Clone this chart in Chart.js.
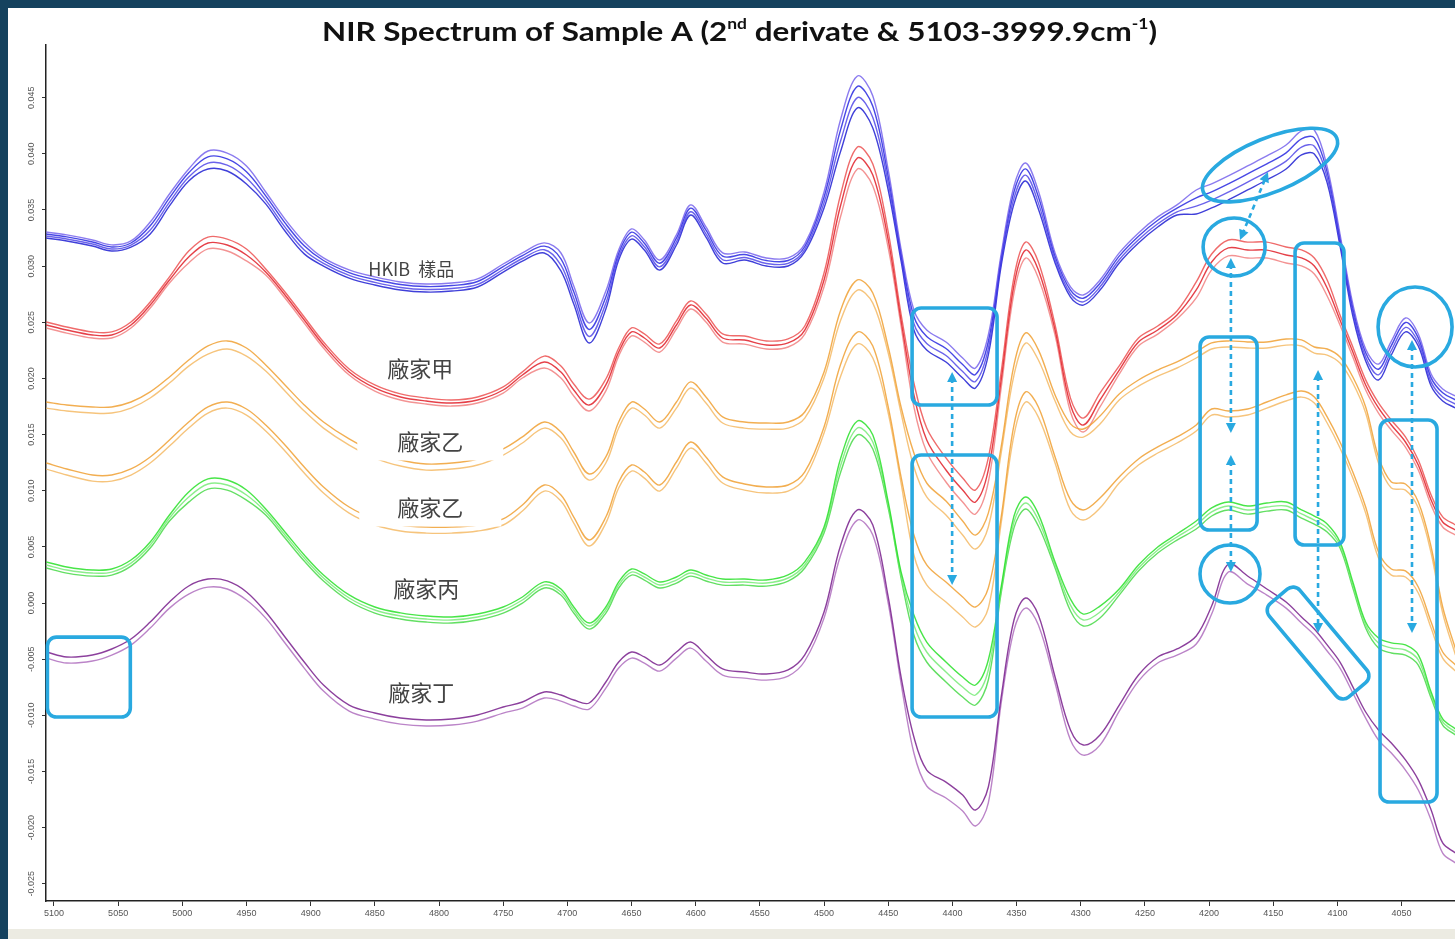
<!DOCTYPE html>
<html lang="zh-Hant">
<head>
<meta charset="UTF-8">
<title>NIR Spectrum of Sample A</title>
<script src="https://cdn.jsdelivr.net/npm/chart.js"></script>
<style>
  html, body { margin: 0; padding: 0; }
  body { width: 1455px; height: 939px; position: relative; overflow: hidden; background: #15425e; }
  .panel { position: absolute; left: 8px; top: 8px; right: 0; bottom: 0; background: #fff; }
  .strip { position: absolute; left: 8px; right: 0; top: 929px; bottom: 0; background: #ecebe2; }
  #nirChart { position: absolute; left: 0; top: 0; }
</style>
</head>
<body>
<div class="panel"></div>
<div class="strip"></div>
<canvas id="nirChart" width="1455" height="939"></canvas>
<script>
// wavenumber grid (cm-1) shared by every trace
const wavenumber = [5106, 5090, 5070, 5055, 5040, 5025, 5010, 4995, 4980, 4965, 4950, 4935, 4920, 4905, 4890, 4870, 4850, 4830, 4810, 4790,
  4770, 4750, 4735, 4718, 4705, 4695, 4683, 4670, 4660, 4650, 4640, 4628, 4615, 4604, 4592, 4579, 4562, 4545, 4528, 4515,
  4500, 4487, 4474, 4462, 4450, 4440, 4430, 4420, 4405, 4392, 4382, 4372, 4362, 4352, 4343, 4333, 4320, 4308, 4298, 4285,
  4270, 4255, 4240, 4225, 4210, 4198, 4185, 4170, 4155, 4140, 4128, 4118, 4108, 4098, 4088, 4078, 4068, 4058, 4047, 4037,
  4027, 4018, 4008];

// 2nd derivative values, in units of 1e-3
// HKIB 樣品
const hkib1 = [33.04,32.78,32.33,31.89,32.24,33.93,36.42,38.65,40.25,40.07,38.92,36.60,34.19,32.15,30.73,29.66,29.04,28.59,28.41,28.50,
  28.86,30.19,31.17,32.07,31.17,28.23,24.94,27.78,31.44,33.31,32.33,30.55,32.78,35.45,33.49,31.18,31.26,30.73,30.73,31.98,
  36.60,43.10,46.93,45.15,38.56,31.52,26.09,24.31,23.24,21.82,20.93,23.87,31.08,37.14,39.18,36.69,31.18,28.15,27.43,28.77,
  31.18,32.96,34.38,35.45,36.78,37.32,38.03,38.92,39.81,40.79,42.04,42.12,38.83,32.86,26.62,22.62,21.28,23.33,25.38,23.95,
  20.39,19.06,18.43];
const hkib2 = [32.86,32.60,32.15,31.71,32.06,33.59,36.08,38.31,39.73,39.55,38.40,36.26,33.85,31.81,30.50,29.43,28.81,28.36,28.18,28.27,
  28.63,29.96,30.94,31.78,30.65,27.71,24.36,27.26,31.15,33.02,32.04,30.26,32.49,35.16,33.20,30.89,31.03,30.50,30.50,31.75,
  36.14,42.18,46.01,44.23,37.98,31.18,25.51,23.73,22.66,21.24,20.35,23.29,30.74,36.62,38.66,36.17,30.89,27.86,27.14,28.48,
  30.89,32.67,34.09,35.16,36.08,36.62,37.33,38.22,39.11,40.09,41.34,41.42,38.37,32.52,26.28,22.28,20.82,22.93,24.98,23.61,
  20.05,18.72,18.09];
const hkib3 = [32.68,32.42,31.97,31.53,31.88,33.21,35.70,37.93,39.17,38.99,37.84,35.88,33.47,31.43,30.24,29.17,28.55,28.10,27.92,28.01,
  28.37,29.70,30.68,31.46,30.09,27.15,23.74,26.70,30.83,32.70,31.72,29.94,32.17,34.84,32.88,30.57,30.77,30.24,30.24,31.49,
  35.64,41.18,45.01,43.23,37.36,30.80,24.89,23.11,22.04,20.62,19.73,22.67,30.36,36.06,38.10,35.61,30.57,27.54,26.82,28.16,
  30.57,32.35,33.77,34.84,35.34,35.88,36.59,37.48,38.37,39.35,40.60,40.68,37.87,32.14,25.90,21.90,20.32,22.49,24.54,23.23,
  19.67,18.34,17.71];
const hkib4 = [32.50,32.24,31.79,31.35,31.70,32.87,35.36,37.59,38.65,38.47,37.32,35.54,33.13,31.09,30.01,28.94,28.32,27.87,27.69,27.78,
  28.14,29.47,30.45,31.17,29.57,26.63,23.16,26.18,30.54,32.41,31.43,29.65,31.88,34.55,32.59,30.28,30.54,30.01,30.01,31.26,
  35.18,40.26,44.09,42.31,36.78,30.46,24.31,22.53,21.46,20.04,19.15,22.09,30.02,35.54,37.58,35.09,30.28,27.25,26.53,27.87,
  30.28,32.06,33.48,34.55,34.64,35.18,35.89,36.78,37.67,38.65,39.90,39.98,37.41,31.80,25.56,21.56,19.86,22.09,24.14,22.89,
  19.33,18.00,17.37];

// 廠家甲
const jia1 = [25.03,24.58,24.14,24.14,25.03,26.81,29.04,31.34,32.59,32.41,31.52,29.75,27.70,25.47,23.25,20.84,19.42,18.62,18.26,18.08,
  18.35,19.24,20.58,21.99,21.10,19.50,18.16,19.95,22.71,24.50,23.96,23.07,25.12,26.90,25.74,23.96,23.78,23.34,23.52,24.67,
  29.39,36.42,40.61,39.10,33.04,25.73,19.60,15.59,12.92,11.14,10.07,12.92,20.57,29.03,32.14,30.37,24.76,18.25,16.47,18.70,
  21.11,23.60,24.67,26.01,28.59,31.08,32.33,32.14,32.14,31.70,31.44,30.72,28.76,25.65,22.80,19.87,17.82,16.30,14.79,12.74,
  9.62,7.67,6.95];
const jia2 = [24.76,24.31,23.87,23.87,24.76,26.54,28.77,30.81,32.06,31.88,30.99,29.48,27.43,25.20,22.98,20.57,19.15,18.35,17.99,17.81,
  18.08,18.97,20.31,21.46,20.57,18.97,17.63,19.42,22.35,24.14,23.60,22.71,24.76,26.54,25.38,23.60,23.42,22.98,23.16,24.31,
  28.77,35.44,39.63,38.12,32.33,25.20,18.53,14.52,11.85,10.07,9.00,11.85,19.86,28.32,31.43,29.66,24.31,17.63,15.85,18.08,
  20.75,23.24,24.31,25.65,27.88,30.37,31.62,31.43,31.43,30.99,30.73,30.01,28.05,25.20,22.35,19.42,17.37,15.85,14.34,12.29,
  9.17,7.22,6.50];
const jia3 = [24.49,24.04,23.60,23.60,24.49,26.27,28.50,30.28,31.53,31.35,30.46,29.21,27.16,24.93,22.71,20.30,18.88,18.08,17.72,17.54,
  17.81,18.70,20.04,20.93,20.04,18.44,17.10,18.89,21.99,23.78,23.24,22.35,24.40,26.18,25.02,23.24,23.06,22.62,22.80,23.95,
  28.15,34.46,38.65,37.14,31.62,24.67,17.46,13.45,10.78,9.00,7.93,10.78,19.15,27.61,30.72,28.95,23.86,17.01,15.23,17.46,
  20.39,22.88,23.95,25.29,27.17,29.66,30.91,30.72,30.72,30.28,30.02,29.30,27.34,24.75,21.90,18.97,16.92,15.40,13.89,11.84,
  8.72,6.77,6.05];

// 廠家乙 (upper set)
const yiA1 = [17.90,17.64,17.46,17.46,17.90,18.80,20.13,21.64,22.89,23.34,22.71,21.20,19.42,17.64,16.12,14.61,13.45,12.74,12.38,12.47,
  12.83,13.72,14.79,16.12,15.23,13.45,11.49,13.01,16.12,17.90,17.28,16.12,17.90,19.69,18.35,16.57,16.12,16.03,16.12,17.01,
  20.58,26.10,28.77,27.61,22.80,17.46,13.36,10.69,9.08,7.30,6.05,8.01,13.90,21.20,24.05,22.54,18.53,15.95,15.50,16.66,
  18.62,19.86,20.75,21.47,22.36,23.16,23.34,23.25,23.25,23.51,23.43,22.80,22.62,21.91,20.13,17.46,13.01,10.78,10.60,9.00,
  4.99,-0.35,-4.09];
const yiA2 = [17.36,17.10,16.92,16.92,17.36,18.26,19.59,21.10,22.17,22.62,21.99,20.66,18.88,17.10,15.58,14.07,12.91,12.20,11.84,11.93,
  12.29,13.18,14.25,15.58,14.69,12.91,10.95,12.47,15.58,17.36,16.74,15.58,17.36,19.15,17.81,16.03,15.58,15.49,15.58,16.47,
  20.04,25.20,27.87,26.71,22.26,16.92,12.12,9.45,7.84,6.06,4.81,6.77,13.36,20.30,23.15,21.64,17.99,15.23,14.78,15.94,
  18.08,19.32,20.21,20.93,21.82,22.62,22.80,22.71,22.71,22.97,22.89,22.26,22.08,21.37,19.59,16.92,12.47,10.24,10.06,8.46,
  4.45,-0.89,-4.63];

// 廠家乙 (lower set)
const yiB1 = [12.47,11.94,11.40,11.40,11.94,13.01,14.52,16.12,17.46,17.90,17.28,15.86,14.08,12.12,10.34,8.55,7.49,6.95,6.77,6.77,
  6.95,7.49,8.73,10.51,9.62,7.66,5.62,7.66,10.78,12.29,11.67,10.51,12.56,14.34,13.01,11.23,10.60,10.34,10.51,11.67,
  15.68,21.28,24.13,22.88,17.46,11.23,6.06,3.39,1.87,0.54,-0.35,1.34,7.66,15.86,18.80,17.46,13.01,9.18,8.29,9.36,
  11.23,12.83,13.90,14.79,15.86,17.28,17.10,17.28,17.90,18.53,18.88,18.35,16.57,14.34,11.67,8.55,4.55,3.03,2.86,1.43,
  -1.69,-4.36,-5.52];
const yiB2 = [11.93,11.40,10.86,10.86,11.40,12.47,13.98,15.58,16.92,17.36,16.74,15.32,13.54,11.58,9.80,8.01,6.95,6.41,6.23,6.23,
  6.41,6.95,8.19,9.97,9.08,7.12,5.08,7.12,10.24,11.75,11.13,9.97,12.02,13.80,12.47,10.69,10.06,9.80,9.97,11.13,
  15.14,20.22,23.07,21.82,16.92,10.69,4.28,1.61,0.09,-1.24,-2.13,-0.44,7.12,14.96,17.90,16.56,12.47,8.28,7.39,8.46,
  10.69,12.29,13.36,14.25,15.32,16.74,16.56,16.74,17.36,17.99,18.34,17.81,16.03,13.80,11.13,8.01,4.01,2.49,2.32,0.89,
  -2.23,-4.90,-6.06];

// 廠家丙
const bing1 = [3.66,3.21,2.94,3.03,3.83,5.44,7.84,9.89,11.05,10.96,10.07,8.38,6.33,4.28,2.50,0.72,-0.35,-0.88,-1.15,-1.24,
  -0.97,-0.35,0.54,1.88,1.25,-0.35,-1.78,-0.35,1.88,3.03,2.59,1.88,2.32,2.94,2.50,2.14,2.14,2.05,2.50,3.66,
  6.77,12.91,16.21,14.96,9.00,2.77,-1.07,-3.47,-5.25,-6.59,-7.30,-5.07,1.43,7.75,9.44,7.92,3.66,0.35,-0.98,-0.27,
  1.25,3.39,4.99,6.15,7.31,8.47,9.00,8.64,8.91,9.00,8.29,7.75,7.04,5.44,1.88,-1.69,-3.11,-3.55,-3.73,-4.62,
  -7.92,-10.32,-11.21];
const bing2 = [3.39,2.94,2.67,2.76,3.56,5.17,7.57,9.44,10.60,10.51,9.62,8.11,6.06,4.01,2.23,0.45,-0.62,-1.15,-1.42,-1.51,
  -1.24,-0.62,0.27,1.61,0.98,-0.62,-2.05,-0.62,1.61,2.76,2.32,1.61,2.05,2.67,2.23,1.87,1.87,1.78,2.23,3.39,
  6.50,12.29,15.59,14.34,8.73,2.50,-1.96,-4.36,-6.14,-7.48,-8.19,-5.96,1.16,7.22,8.91,7.39,3.39,-0.18,-1.51,-0.80,
  0.98,3.12,4.72,5.88,6.95,8.11,8.64,8.28,8.55,8.64,7.93,7.39,6.68,5.17,1.61,-1.96,-3.56,-4.00,-4.18,-5.07,
  -8.19,-10.59,-11.48];
const bing3 = [3.12,2.67,2.40,2.49,3.29,4.90,7.30,8.99,10.15,10.06,9.17,7.84,5.79,3.74,1.96,0.18,-0.89,-1.42,-1.69,-1.78,
  -1.51,-0.89,0.00,1.34,0.71,-0.89,-2.32,-0.89,1.34,2.49,2.05,1.34,1.78,2.40,1.96,1.60,1.60,1.51,1.96,3.12,
  6.23,11.67,14.97,13.72,8.46,2.23,-2.85,-5.25,-7.03,-8.37,-9.08,-6.85,0.89,6.69,8.38,6.86,3.12,-0.71,-2.04,-1.33,
  0.71,2.85,4.45,5.61,6.59,7.75,8.28,7.92,8.19,8.28,7.57,7.03,6.32,4.90,1.34,-2.23,-4.01,-4.45,-4.63,-5.52,
  -8.46,-10.86,-11.75];

// 廠家丁
const ding1 = [-4.36,-4.80,-4.62,-4.09,-3.20,-1.69,0.09,1.52,2.14,1.97,0.99,-0.80,-3.02,-5.25,-7.30,-9.08,-9.79,-10.24,-10.41,-10.32,
  -9.97,-9.26,-8.81,-7.92,-8.19,-8.63,-8.90,-7.03,-5.25,-4.36,-4.80,-5.52,-4.36,-3.47,-4.62,-5.87,-6.14,-6.32,-5.96,-4.62,
  -0.80,5.17,8.29,6.95,0.54,-6.58,-11.93,-14.87,-15.94,-17.10,-18.43,-16.38,-8.37,-1.51,0.45,-1.06,-6.58,-11.30,-12.64,-11.75,
  -9.08,-6.41,-4.80,-4.09,-2.93,-0.26,3.48,2.41,1.25,0.09,-1.24,-2.31,-3.73,-5.25,-7.47,-9.70,-11.30,-12.46,-13.97,-15.75,
  -18.43,-21.36,-22.25];
const ding2 = [-4.90,-5.34,-5.16,-4.63,-3.74,-2.23,-0.45,0.80,1.42,1.25,0.27,-1.34,-3.56,-5.79,-7.84,-9.62,-10.33,-10.78,-10.95,-10.86,
  -10.51,-9.80,-9.35,-8.46,-8.73,-9.17,-9.44,-7.57,-5.79,-4.90,-5.34,-6.06,-4.90,-4.01,-5.16,-6.41,-6.68,-6.86,-6.50,-5.16,
  -1.34,4.27,7.39,6.05,0.00,-7.12,-13.35,-16.29,-17.36,-18.52,-19.85,-17.80,-8.91,-2.41,-0.45,-1.96,-7.12,-12.20,-13.54,-12.65,
  -9.62,-6.95,-5.34,-4.63,-3.65,-0.98,2.76,1.69,0.71,-0.45,-1.78,-2.85,-4.27,-5.79,-8.01,-10.24,-12.20,-13.36,-14.87,-16.65,
  -19.33,-22.26,-23.15];

const xTicks = [5100, 5050, 5000, 4950, 4900, 4850, 4800, 4750, 4700, 4650, 4600, 4550, 4500, 4450, 4400, 4350, 4300, 4250, 4200, 4150, 4100, 4050];
const yTicks = [0.045, 0.040, 0.035, 0.030, 0.025, 0.020, 0.015, 0.010, 0.005, 0.000, -0.005, -0.010, -0.015, -0.020, -0.025];

const groups = [
  { traces: [ding1, ding2], colors: ['rgba(120,30,140,0.85)', 'rgba(175,110,190,0.85)'] },
  { traces: [bing1, bing2, bing3], colors: ['rgba(40,225,40,0.85)', 'rgba(120,235,120,0.85)', 'rgba(60,215,60,0.8)'] },
  { traces: [yiB1, yiB2], colors: ['rgba(240,160,50,0.85)', 'rgba(245,190,110,0.9)'] },
  { traces: [yiA1, yiA2], colors: ['rgba(240,160,50,0.85)', 'rgba(245,190,110,0.9)'] },
  { traces: [jia1, jia2, jia3], colors: ['rgba(235,70,70,0.8)', 'rgba(225,30,40,0.85)', 'rgba(240,120,120,0.8)'] },
  { traces: [hkib1, hkib2, hkib3, hkib4], colors: ['rgba(110,90,235,0.8)', 'rgba(40,40,225,0.85)', 'rgba(70,60,230,0.8)', 'rgba(30,30,210,0.85)'] }
];

// sample labels: [wavenumber, value e-3]
const tags = [
  { text: 'HKIB  樣品', at: [4821.6, 29.75], size: 18 },
  { text: '廠家甲', at: [4814.6, 20.84], size: 22 },
  { text: '廠家乙', at: [4806.8, 14.34], size: 22, mask: [146, 37] },
  { text: '廠家乙', at: [4806.8, 8.46], size: 22, mask: [142, 37] },
  { text: '廠家丙', at: [4809.9, 1.25], size: 22 },
  { text: '廠家丁', at: [4813.8, -8.01], size: 22 }
];

// highlight marks, anchored in data units
const marks = [
  { type: 'box', from: [4431.4, 26.27], to: [4365.2, 17.63] },
  { type: 'box', from: [4431.4, 13.18], to: [4365.2, -10.15] },
  { type: 'box', from: [4207.0, 23.69], to: [4162.6, 6.50] },
  { type: 'box', from: [4133.0, 32.06], to: [4094.9, 5.17] },
  { type: 'box', from: [4066.8, 16.30], to: [4022.4, -17.72] },
  { type: 'box', from: [5105.1, -3.03], to: [5040.5, -10.15] },
  { type: 'tilted', at: [4115.1, -3.56], w: 122, h: 40, angle: 50 },
  { type: 'ellipse', at: [4152.5, 39.0], rx: 72, ry: 27, angle: -22 },
  { type: 'ellipse', at: [4180.5, 31.7], rx: 31, ry: 29, angle: 0 },
  { type: 'ellipse', at: [4039.5, 24.58], rx: 37, ry: 40, angle: 0 },
  { type: 'ellipse', at: [4183.7, 2.59], rx: 30, ry: 29, angle: 0 },
  { type: 'arrow', from: [4400.2, 20.57], to: [4400.2, 1.61] },
  { type: 'arrow', from: [4175.9, 32.33], to: [4154.1, 38.38] },
  { type: 'arrow', from: [4183.0, 30.73], to: [4183.0, 15.14] },
  { type: 'arrow', from: [4183.0, 13.18], to: [4183.0, 2.76] },
  { type: 'arrow', from: [4115.1, 20.75], to: [4115.1, -2.67] },
  { type: 'arrow', from: [4041.9, 23.42], to: [4041.9, -2.67] }
];

const datasets = [];
groups.forEach(g => {
  g.traces.forEach((t, i) => {
    datasets.push({
      data: t.map((v, k) => ({ x: wavenumber[k], y: v / 1000 })),
      borderColor: g.colors[i % g.colors.length],
      borderWidth: 1.4,
      pointRadius: 0,
      fill: false,
      tension: 0.35
    });
  });
});

const CYAN = '#29a9e0';

function arrowHead(ctx, x, y, ang) {
  const L = 10, W = 5;
  ctx.beginPath();
  ctx.moveTo(x, y);
  ctx.lineTo(x - L * Math.cos(ang) + W * Math.sin(ang), y - L * Math.sin(ang) - W * Math.cos(ang));
  ctx.lineTo(x - L * Math.cos(ang) - W * Math.sin(ang), y - L * Math.sin(ang) + W * Math.cos(ang));
  ctx.closePath();
  ctx.fill();
}

const overlayPlugin = {
  id: 'overlay',
  afterDatasetsDraw(chart) {
    const ctx = chart.ctx;
    const xs = chart.scales.x, ys = chart.scales.y;
    const px = p => [xs.getPixelForValue(p[0]), ys.getPixelForValue(p[1] / 1000)];

    // sample names
    ctx.save();
    tags.forEach(t => {
      const [cx, cy] = px(t.at);
      if (t.mask) {
        ctx.fillStyle = '#fff';
        ctx.fillRect(cx - t.mask[0] / 2, cy - t.mask[1] / 2, t.mask[0], t.mask[1]);
      }
      ctx.font = t.size + 'px "Noto Sans CJK TC"';
      ctx.fillStyle = '#444';
      ctx.textAlign = 'center';
      ctx.textBaseline = 'middle';
      ctx.fillText(t.text, cx, cy);
    });
    ctx.restore();

    // cyan highlights
    ctx.save();
    ctx.strokeStyle = CYAN;
    ctx.fillStyle = CYAN;
    ctx.lineJoin = 'round';
    marks.forEach(m => {
      ctx.setLineDash([]);
      ctx.lineWidth = 3.6;
      if (m.type === 'box') {
        const [x1, y1] = px(m.from), [x2, y2] = px(m.to);
        ctx.beginPath();
        ctx.roundRect(Math.min(x1, x2), Math.min(y1, y2), Math.abs(x2 - x1), Math.abs(y2 - y1), 9);
        ctx.stroke();
      } else if (m.type === 'tilted') {
        const [cx, cy] = px(m.at);
        ctx.save();
        ctx.translate(cx, cy);
        ctx.rotate(m.angle * Math.PI / 180);
        ctx.beginPath();
        ctx.roundRect(-m.w / 2, -m.h / 2, m.w, m.h, 9);
        ctx.stroke();
        ctx.restore();
      } else if (m.type === 'ellipse') {
        const [cx, cy] = px(m.at);
        ctx.beginPath();
        ctx.ellipse(cx, cy, m.rx, m.ry, m.angle * Math.PI / 180, 0, Math.PI * 2);
        ctx.stroke();
      } else if (m.type === 'arrow') {
        const [x1, y1] = px(m.from), [x2, y2] = px(m.to);
        const ang = Math.atan2(y2 - y1, x2 - x1);
        ctx.lineWidth = 2.6;
        ctx.setLineDash([5, 4]);
        ctx.beginPath();
        ctx.moveTo(x1 + 6 * Math.cos(ang), y1 + 6 * Math.sin(ang));
        ctx.lineTo(x2 - 6 * Math.cos(ang), y2 - 6 * Math.sin(ang));
        ctx.stroke();
        ctx.setLineDash([]);
        arrowHead(ctx, x2, y2, ang);
        arrowHead(ctx, x1, y1, ang + Math.PI);
      }
    });
    ctx.restore();
  },
  afterDraw(chart) {
    const ctx = chart.ctx;
    const ys = chart.scales.y;

    // rotated y tick labels
    ctx.save();
    ctx.font = '9px "Liberation Sans"';
    ctx.fillStyle = '#555';
    ctx.textAlign = 'center';
    ctx.textBaseline = 'middle';
    yTicks.forEach(v => {
      ctx.save();
      ctx.translate(32, ys.getPixelForValue(v));
      ctx.rotate(-Math.PI / 2);
      ctx.fillText(v.toFixed(3), 0, 0);
      ctx.restore();
    });
    ctx.restore();

    // title with superscripts
    const parts = [
      ['NIR Spectrum of Sample A (2', false],
      ['nd', true],
      [' derivate & 5103-3999.9cm', false],
      ['-1', true],
      [')', false]
    ];
    const big = 'bold 27px Lato', small = 'bold 15px Lato';
    ctx.save();
    let w = 0;
    parts.forEach(p => { ctx.font = p[1] ? small : big; w += ctx.measureText(p[0]).width; });
    ctx.translate(322, 41);
    ctx.scale(835 / w, 1);
    ctx.fillStyle = '#111';
    let x = 0;
    parts.forEach(p => {
      ctx.font = p[1] ? small : big;
      ctx.fillText(p[0], x, p[1] ? -12 : 0);
      x += ctx.measureText(p[0]).width;
    });
    ctx.restore();
  }
};

new Chart(document.getElementById('nirChart'), {
  type: 'line',
  data: { datasets: datasets },
  options: {
    responsive: false,
    animation: false,
    events: [],
    layout: { padding: { top: 45, left: 0, right: 0, bottom: 0 } },
    plugins: { legend: { display: false }, tooltip: { enabled: false }, title: { display: false } },
    scales: {
      x: {
        type: 'linear',
        reverse: true,
        min: 4008.4,
        max: 5106.2,
        afterFit: s => { s.height = 38; },
        afterBuildTicks: s => { s.ticks = xTicks.map(v => ({ value: v })); },
        ticks: {
          font: { family: 'Liberation Sans', size: 9 },
          color: '#555',
          padding: 2,
          maxRotation: 0,
          autoSkip: false,
          callback: v => String(v)
        },
        grid: { drawOnChartArea: false, drawTicks: true, tickLength: 5, color: '#333' },
        border: { display: true, color: '#222', width: 1.5 }
      },
      y: {
        type: 'linear',
        min: -0.02653,
        max: 0.04969,
        afterFit: s => { s.width = 46; },
        afterBuildTicks: s => { s.ticks = yTicks.map(v => ({ value: v })); },
        ticks: { display: false },
        grid: { drawOnChartArea: false, drawTicks: true, tickLength: 4, color: '#333' },
        border: { display: true, color: '#222', width: 1.5 }
      }
    }
  },
  plugins: [overlayPlugin]
});
</script>
</body>
</html>
